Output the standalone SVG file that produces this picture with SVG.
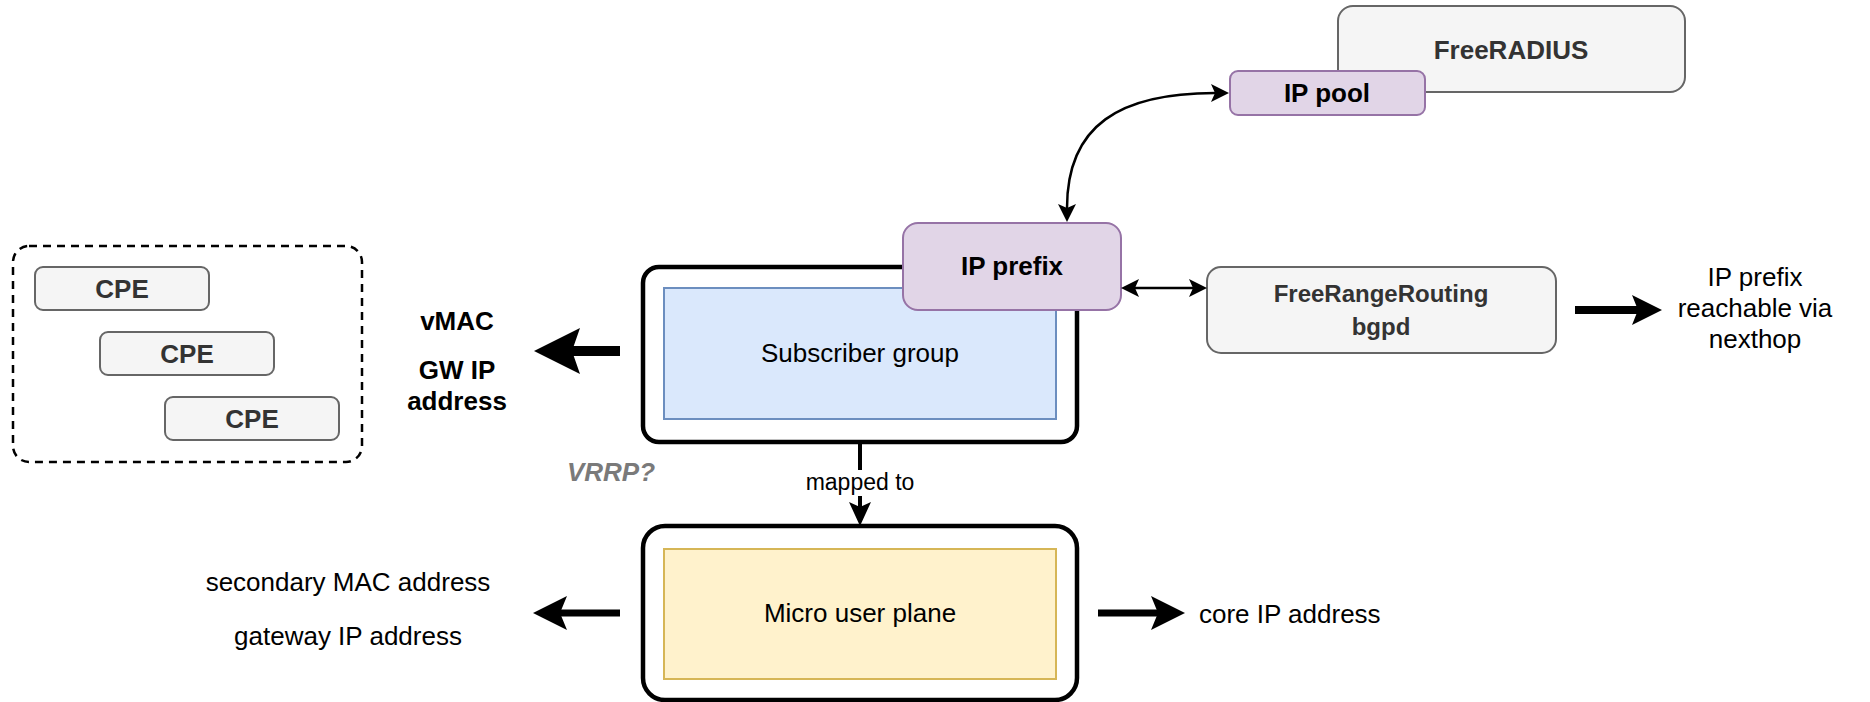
<svg xmlns="http://www.w3.org/2000/svg" width="1870" height="702" viewBox="0 0 1870 702">
<style>
text{font-family:"Liberation Sans",Arial,Helvetica,sans-serif;text-anchor:middle}
.b{font-weight:bold}
.t26{font-size:26px}
.t24{font-size:24px}
.start{text-anchor:start}
.gray{fill:#f5f5f5;stroke:#666666;stroke-width:2}
.gtxt{fill:#333333}
.purple{fill:#e1d5e7;stroke:#9673a6;stroke-width:2}
.outer{fill:#ffffff;stroke:#000000;stroke-width:4.5}
.conn{fill:none;stroke:#000000}
</style>
<defs>
<marker id="mBig" viewBox="0 0 46 46" refX="8" refY="23" markerWidth="46" markerHeight="46" markerUnits="userSpaceOnUse" orient="auto"><path d="M0,0 L46,23 L0,46 L8,23 Z" fill="#000"/></marker>
<marker id="mMid" viewBox="0 0 34 34" refX="7" refY="17" markerWidth="34" markerHeight="34" markerUnits="userSpaceOnUse" orient="auto"><path d="M0,0 L34,17 L0,34 L7,17 Z" fill="#000"/></marker>
<marker id="mFrr" viewBox="0 0 30 30" refX="6" refY="15" markerWidth="30" markerHeight="30" markerUnits="userSpaceOnUse" orient="auto"><path d="M0,0 L30,15 L0,30 L6,15 Z" fill="#000"/></marker>
<marker id="mMap" viewBox="0 0 24 22" refX="5" refY="11" markerWidth="24" markerHeight="22" markerUnits="userSpaceOnUse" orient="auto"><path d="M0,0 L24,11 L0,22 L5,11 Z" fill="#000"/></marker>
<marker id="mSmall" viewBox="0 0 18 18" refX="4" refY="9" markerWidth="18" markerHeight="18" markerUnits="userSpaceOnUse" orient="auto-start-reverse"><path d="M0,0 L18,9 L0,18 L4,9 Z" fill="#000"/></marker>
</defs>

<g id="cpe-group">
<rect x="13" y="246" width="349" height="216" rx="16" fill="none" stroke="#000" stroke-width="2.5" stroke-dasharray="8 6"/>
</g>
<g id="cpe1"><rect class="gray" x="35" y="267" width="174" height="43" rx="8"/><text class="b t26 gtxt" x="122" y="298">CPE</text></g>
<g id="cpe2"><rect class="gray" x="100" y="332" width="174" height="43" rx="8"/><text class="b t26 gtxt" x="187" y="363">CPE</text></g>
<g id="cpe3"><rect class="gray" x="165" y="397" width="174" height="43" rx="8"/><text class="b t26 gtxt" x="252" y="428">CPE</text></g>

<g id="freeradius"><rect class="gray" x="1338" y="6" width="347" height="86" rx="15"/><text class="b t26 gtxt" x="1511" y="59">FreeRADIUS</text></g>
<g id="ip-pool"><rect class="purple" x="1230" y="71" width="195" height="44" rx="8"/><text class="b t26" x="1327" y="102">IP pool</text></g>

<g id="subscriber-group">
<rect class="outer" x="643" y="267" width="434" height="175" rx="16"/>
<rect x="664" y="288" width="392" height="131" fill="#dae8fc" stroke="#6c8ebf" stroke-width="2"/>
<text class="t26" x="860" y="362">Subscriber group</text>
</g>
<g id="ip-prefix"><rect class="purple" x="903" y="223" width="218" height="87" rx="15"/><text class="b t26" x="1012" y="275">IP prefix</text></g>

<g id="frr"><rect class="gray" x="1207" y="267" width="349" height="86" rx="14"/><text class="b t24 gtxt" x="1381" y="302">FreeRangeRouting</text><text class="b t24 gtxt" x="1381" y="335">bgpd</text></g>

<g id="micro-user-plane">
<rect class="outer" x="643" y="526" width="434" height="174" rx="22"/>
<rect x="664" y="549" width="392" height="130" fill="#fff2cc" stroke="#d6b656" stroke-width="2"/>
<text class="t26" x="860" y="622">Micro user plane</text>
</g>

<g id="labels">
<text class="b t26" x="457" y="330">vMAC</text>
<text class="b t26" x="457" y="379">GW IP</text>
<text class="b t26" x="457" y="410">address</text>
<text class="b t26" x="611" y="481" font-style="italic" fill="#7a7a7a">VRRP?</text>
<text class="t26" x="348" y="591">secondary MAC address</text>
<text class="t26" x="348" y="645">gateway IP address</text>
<text class="t26 start" x="1199" y="623">core IP address</text>
<text class="t26" x="1755" y="286">IP prefix</text>
<text class="t26" x="1755" y="317">reachable via</text>
<text class="t26" x="1755" y="348">nexthop</text>
</g>

<g id="connectors">
<path class="conn" d="M1067,208 C1067,125 1120,93 1215,93" stroke-width="2.5" marker-start="url(#mSmall)" marker-end="url(#mSmall)"/>
<path class="conn" d="M1135,288 L1193,288" stroke-width="2.5" marker-start="url(#mSmall)" marker-end="url(#mSmall)"/>
<path class="conn" d="M1575,310 L1638,310" stroke-width="8" marker-end="url(#mFrr)"/>
<path class="conn" d="M620,351 L572,351" stroke-width="10" marker-end="url(#mBig)"/>
<path class="conn" d="M620,613 L560,613" stroke-width="7" marker-end="url(#mMid)"/>
<path class="conn" d="M1098,613 L1158,613" stroke-width="7" marker-end="url(#mMid)"/>
<path class="conn" d="M860,442 L860,507" stroke-width="4" marker-end="url(#mMap)"/>
<rect x="808" y="470" width="104" height="26" fill="#ffffff"/>
<text x="860" y="490" font-size="23">mapped to</text>
</g>
</svg>
